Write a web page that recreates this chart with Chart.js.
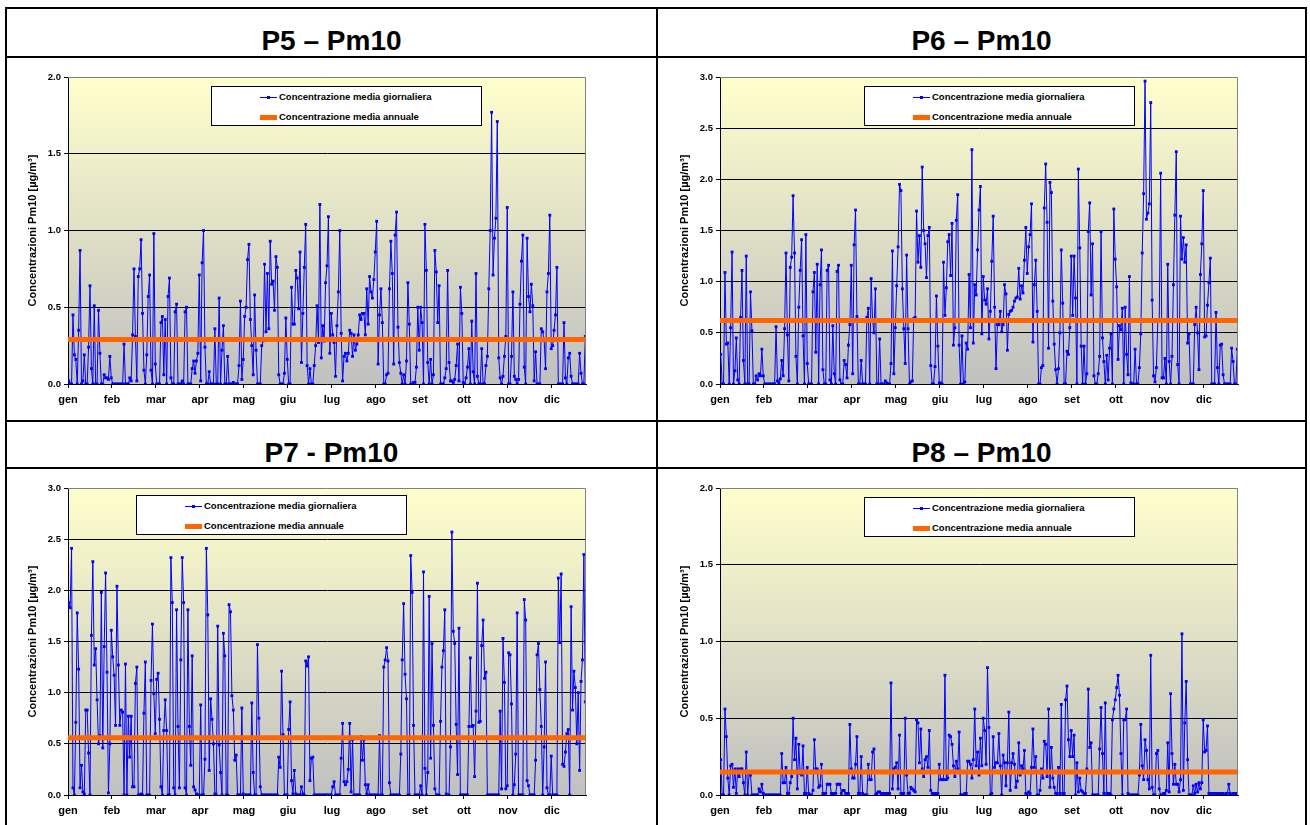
<!DOCTYPE html>
<html lang="it">
<head>
<meta charset="utf-8">
<title>Concentrazioni Pm10 – P5, P6, P7, P8</title>
<script src="https://cdn.jsdelivr.net/npm/chart.js@4.4.1/dist/chart.umd.min.js"></script>
<style>
  html, body { margin: 0; padding: 0; background: #fff; }
  #page { position: relative; width: 1310px; height: 825px; overflow: hidden; font-family: Arial, "Liberation Sans", sans-serif; color: #000; }
  .rule { position: absolute; background: #000; }
  .title { position: absolute; height: 32px; line-height: 32px; text-align: center; font-weight: bold; font-size: 28px; white-space: nowrap; }
  canvas { position: absolute; }
  .legend { position: absolute; width: 271px; height: 40px; background: #fff; border: 1px solid #000; box-sizing: border-box; font-weight: bold; font-size: 9.5px; }
  .legend .row { position: absolute; left: 48px; height: 12px; line-height: 12px; white-space: nowrap; }
  .swatch { display: inline-block; position: relative; width: 17px; height: 12px; margin-right: 2px; vertical-align: top; }
  .swatch.daily::before { content: ''; position: absolute; left: 0; right: 0; top: 6px; height: 1px; background: #0000ff; }
  .swatch.daily::after { content: ''; position: absolute; left: 7px; top: 5px; width: 3px; height: 3px; background: #0000ff; }
  .swatch.annual::before { content: ''; position: absolute; left: 0; right: 0; top: 4px; height: 5px; background: #ff6600; }
</style>
</head>
<body>
<div id="page">
  <div class="rule" style="left:5px;top:7px;width:1302px;height:2px"></div>
  <div class="rule" style="left:5px;top:56px;width:1302px;height:2px"></div>
  <div class="rule" style="left:5px;top:420px;width:1302px;height:2px"></div>
  <div class="rule" style="left:5px;top:467px;width:1302px;height:2px"></div>
  <div class="rule" style="left:5px;top:7px;width:2px;height:820px"></div>
  <div class="rule" style="left:656px;top:7px;width:2px;height:820px"></div>
  <div class="rule" style="left:1305px;top:7px;width:2px;height:820px"></div>

  <div class="title" style="left:7px;width:649px;top:25px">P5 – Pm10</div>
  <div class="title" style="left:658px;width:647px;top:25px">P6 – Pm10</div>
  <div class="title" style="left:7px;width:649px;top:437px">P7 - Pm10</div>
  <div class="title" style="left:658px;width:647px;top:437px">P8 – Pm10</div>

  <canvas id="c5"></canvas>
  <canvas id="c6"></canvas>
  <canvas id="c7"></canvas>
  <canvas id="c8"></canvas>
</div>

<script>
// --- DATA (daily values, index = day of year) ---
const monthLabels = ['gen', 'feb', 'mar', 'apr', 'mag', 'giu', 'lug', 'ago', 'set', 'ott', 'nov', 'dic'];
const monthTicks = [0, 31, 62, 93, 124, 155, 186, 217, 248, 279, 310, 341];

const p5Daily = [
  0.02,0,0,0.45,0.19,0.16,0,0.35,0.87,0,
  0.02,0.19,0,0,0.24,0.64,0.1,0,0.51,0,
  0,0.48,0.2,0,0,0.06,0.04,0.04,0.03,0.18,
  0.04,0,0,0,0,0,0,0,0,0.26,
  0,0,0,0.04,0.02,0.32,0.75,0.31,0.02,0.7,
  0.75,0.94,0.46,0.09,0,0.19,0.57,0.71,0.09,0,
  0.98,0.13,0,0,0,0.4,0.44,0.06,0.42,0,
  0.57,0.69,0.04,0,0,0.47,0.52,0,0,0,
  0.02,0,0.47,0.5,0,0,0,0.1,0.15,0.07,
  0.15,0.2,0.71,0.02,0.79,1.0,0.24,0,0,0.08,
  0,0,0,0.36,0,0,0.56,0,0.22,0.38,
  0,0,0.18,0,0,0,0.01,0,0,0,
  0.12,0.54,0.03,0.16,0.44,0.5,0.81,0.91,0.42,0.25,
  0.06,0.58,0.22,0,0,0,0.25,0.28,0.78,0.34,
  0.72,0.36,0.93,0.65,0.67,0.48,0.83,0.76,0.06,0,
  0,0,0.07,0.43,0.16,0,0,0.63,0.39,0.39,
  0.74,0.69,0.49,0.86,0.14,0.46,0.76,1.04,0.12,0,
  0.1,0,0,0.12,0.25,0.51,0.27,
  1.17,0.17,0.38,0.28,0.66,0.77,1.09,0.2,0.46,0.32,
  0.27,0.05,0.38,0.6,1.0,0.33,0.02,0.18,0.2,0.15,
  0.2,0.35,0.33,0.18,0.32,0.22,0.26,0.32,0.45,0.42,
  0.46,0.46,0.32,0.62,0.39,0.7,0.6,0.56,0.68,0.86,
  1.06,0.13,0.45,0.62,0.4,0,0,0.06,0.07,0.62,
  0.93,0.72,0.13,0.97,1.12,0.37,0.14,0.07,0,0.06,
  0,0.15,0.66,0.39,0,0,0.01,0.01,0.11,0.5,
  0.22,0.5,0.4,0,1.04,0.74,0.14,0,0.16,0,
  0.06,0.87,0.73,0.4,0.64,0,0,0,0.04,0.1,
  0.74,0.14,0.02,0.02,0.01,0.03,0.12,0.26,0.02,0.63,
  0.46,0.01,0,0.04,0.11,0.23,0,0.41,0.08,0,
  0.72,0.05,0,0,0.23,0,0,0.12,0.18,0.62,
  1.0,1.77,0.71,0.95,1.08,1.71,0.17,0.04,0,0.05,
  0.18,0.31,1.15,0,0,0.18,0.6,0.05,0.03,0,
  0.03,0.52,0.8,0.97,0.11,0,0.95,0.57,0.47,0.65,
  0.51,0.02,0.21,0,0,0,0.36,0.34,0.29,0.1,
  0.6,0.72,1.1,0.23,0.25,0.35,0.45,0.76,0,0,
  0,0,0.4,0.04,0,0.17,0.2,0.05,0,0,
  0,0,0,0.2,0.07,0,0,0.31
];

const p6Daily = [
  0.29,0,0,1.09,0.39,0.4,0,0.55,1.29,0,
  0.13,0.45,0.04,0,0.65,1.11,0.23,0,1.25,0,
  0,0.9,0.52,0,0,0.08,0.04,0.1,0.08,0.34,
  0.08,0,0,0,0,0,0,0,0,0.56,
  0.03,0.01,0.05,0.23,0.08,0.54,1.28,0.48,0.03,1.14,
  1.24,1.84,1.28,0.27,0,0.75,1.11,1.41,0.47,0,
  1.46,0.2,0,0,0,0.9,1.09,0.31,1.17,0,
  0.97,1.31,0.14,0,0,1.11,1.16,0.04,0,0.57,
  0.1,0,1.1,1.16,0.04,0,0,0.23,0.19,0.06,
  0.38,0.58,1.16,0.1,1.36,1.7,0.66,0,0,0.23,
  0,0,0,0.65,0.74,0,1.03,0.63,0.5,0.93,
  0,0,0.44,0,0,0,0.03,0.01,0,0,
  0.2,1.3,0.1,0.55,0.96,1.34,1.95,1.89,0.93,0.54,
  0.2,1.26,0.54,0,0.02,0.03,0.64,0.65,1.69,1.19,
  1.45,1.14,2.12,1.5,1.37,1.04,1.45,1.53,0.18,0,
  0,0.17,0.86,0.37,0.01,0.01,0,1.19,0.67,0.94,
  1.39,1.46,1.06,1.57,0.38,0.55,1.6,1.85,0.38,0,
  0.47,0,0.02,0.4,0.34,1.07,0.55,
  2.29,0.4,0.97,0.87,1.31,1.7,1.93,0.49,1.05,0.82,
  0.78,0.93,0.44,0.71,1.2,1.64,0.75,0.15,0.58,0.58,
  0.71,0.51,0.58,0.97,0.88,0.33,0.68,0.71,0.72,0.75,
  0.81,0.84,0.85,1.13,0.83,0.96,0.89,1.21,1.53,1.08,
  1.34,1.46,1.76,0.41,0.97,1.21,0.71,0,0,0.16,
  0.18,1.72,2.15,1.58,0.35,1.97,1.87,0.81,0.39,0.14,
  0,0.15,0.5,1.31,0.79,0,0,0.32,0.29,0.55,
  1.25,0.67,1.25,0.84,0,2.1,1.33,0.37,0,0.37,
  0,0.1,1.49,1.77,0.87,1.37,0.08,0,0,0.1,
  0.27,1.49,0.45,0.22,0,0.28,0.04,0.35,0.49,0,
  1.71,1.22,0.95,0.24,0.57,0.53,0.74,0,0.75,0.29,
  0.09,1.05,0.01,0,0,0.34,0,0,0.16,0.49,
  1.28,1.86,2.96,1.61,1.67,1.76,2.75,0.82,0.08,0.02,
  0.16,0.62,0.62,2.06,0.06,0.06,0.25,0,1.17,0.22,
  0,0.27,0.97,1.65,2.27,0.19,0,1.64,1.22,1.43,
  1.19,1.36,0.4,0.49,0,0,0,0.58,0.75,0.5,
  0.14,1.07,1.37,1.89,0.46,0.47,0.77,0.99,1.23,0,
  0,0,0.7,0.16,0,0.38,0.39,0.09,0,0,
  0,0,0,0.35,0.22,0,0,0.34
];

const p7Daily = [
  1.88,1.83,2.41,0.07,0,0.71,1.78,1.23,0.07,0.29,
  0.03,0.01,0.83,0.83,0.41,0,1.56,2.28,1.27,1.43,
  0.93,0.5,0.58,1.98,0.46,1.45,2.17,1.2,0.02,0.5,
  1.61,1.35,1.17,0.68,2.04,1.27,0.68,0.83,0.81,0,
  1.28,0,0.77,0.37,0.77,0.08,0.08,1.09,1.25,0,
  0,0.01,0,0.8,1.3,0,0,0,1.12,1.67,
  0.99,0.6,1.13,1.19,0.74,0.08,0,0.63,0.93,0.63,
  0,0,2.32,1.88,0.07,0,1.81,0.67,0.07,1.32,
  2.32,1.88,0.07,0,1.81,0.67,0.29,1.36,0.08,0.05,
  0.01,0,0,0.88,0,0,0.35,2.41,1.76,0.24,
  0.94,0.74,0.5,0.01,0,1.65,0.49,0.22,0,1.58,
  1.36,0,0,1.86,1.79,0.97,0.83,0.34,0.39,0,
  0,0,0.85,0.01,0,0,0,0,0,0.9,
  0.22,0,0,1.47,0.75,0.08,0,0,0,0,
  0,0,0,0,0,0,0,0,0.37,0.27,
  1.21,0.59,0,0,0,0.64,0.91,0.14,0.01,0.24,
  0.01,0,0,0,0.08,0.01,0,1.31,1.26,1.35,
  0.14,0.36,0.37,0,0,0,0,
  0,0,0,0,0,0,0,0,0,0.08,
  0.13,0,0,0,0,0.36,0.7,0.13,0.1,0.13,
  0.25,0.7,0.03,0.54,0,0,0,0,0,0.57,
  0.34,0.54,0.1,0.01,0.1,0,0,0,0,0,
  0,0,0.58,0,0,1.25,1.32,1.44,1.31,0.12,
  0,0,0,0,0,0,0,0.4,1.32,1.87,
  1.18,0.94,0,0,2.34,1.98,0.68,0,0,0,
  0,0.09,0,2.18,0.26,0,0.22,1.94,0.36,1.48,
  0.68,0.06,0,0,0,0.72,1.25,1.41,1.81,0.01,
  0,0,0.47,2.57,1.6,1.48,0.69,0.2,1.63,0,
  0,0,0,0,0,0.67,1.34,0.67,0.68,0.18,
  0.82,2.07,0.71,0.72,1.46,1.71,1.14,1.2,0,0,
  0,0,0,0,0,0,0,0.82,0.06,1.53,
  1.1,0.06,0.09,1.39,1.37,0.89,0,0.1,0.4,1.78,
  0,0,0,0,1.91,1.71,0.14,0.09,0,0,
  0,0,0.34,1.37,1.48,1.03,0.67,0,0.47,1.3,
  0.07,0,0,0.38,0,0,0,0,2.12,1.49,
  2.16,0.3,0.28,0.42,0.6,0.64,0,1.84,0.83,1.21,
  1.05,0.5,1.0,0.24,1.11,1.32,2.35,0.91
];

const p8Daily = [
  0.23,0,0,0.56,0.38,0.11,0,0.19,0.2,0.05,
  0.17,0.01,0.17,0.12,0.17,0.17,0.08,0,0.28,0,
  0.14,0.13,0,0,0,0,0,0.04,0.02,0.07,
  0.01,0,0,0,0,0,0,0,0,0,
  0,0,0,0.27,0.08,0.08,0.18,0.01,0.01,0.08,
  0.12,0.5,0.23,0.37,0.04,0.33,0.14,0.13,0.32,0.01,
  0.01,0.18,0.01,0,0,0.03,0.36,0.17,0.17,0.05,
  0.06,0.2,0.01,0.01,0.01,0.07,0.07,0.07,0.01,0.01,
  0.01,0.01,0.07,0.07,0.07,0.01,0.03,0.03,0.01,0.01,
  0.01,0.46,0.17,0.11,0.11,0.2,0.38,0.01,0.01,0.25,
  0.01,0,0,0,0.2,0.1,0.1,0.28,0.3,0,
  0.01,0.02,0.02,0.01,0.01,0.01,0.01,0.01,0.01,0.01,
  0.73,0.04,0.17,0.18,0.21,0.04,0.39,0.01,0.01,0.01,
  0.5,0.13,0.01,0.01,0.05,0.04,0.03,0.02,0.49,0.47,
  0.21,0.43,0.17,0.12,0.23,0.25,0.18,0.42,0.03,0.01,
  0.01,0.01,0.01,0.01,0.2,0.1,0.1,0.1,0.78,0.1,
  0.11,0.39,0.38,0.33,0.19,0.12,0.22,0.17,0.41,0,
  0,0,0.01,0.01,0.22,0.22,0.2,
  0.11,0.23,0.56,0.19,0.28,0.13,0.37,0.19,0.5,0.42,
  0.2,0.83,0.44,0,0.01,0.38,0.18,0.21,0.21,0.4,
  0.19,0,0.26,0.21,0.06,0.21,0.54,0.03,0.21,0.27,
  0.2,0.05,0.09,0.34,0.13,0.19,0.17,0.29,0.01,0.01,
  0.02,0.01,0.18,0.43,0.18,0.25,0,0,0.03,0.17,
  0.11,0.35,0.33,0.12,0.56,0.05,0.31,0.11,0.05,0.01,
  0.01,0.18,0.01,0.59,0.01,0.01,0.62,0.71,0.36,0.25,
  0.42,0.25,0.39,0,0.21,0.02,0.11,0.03,0.02,0.01,
  0.01,0.17,0.69,0.31,0.34,0,0,0,0,0,
  0.3,0.57,0.27,0.01,0.6,0.01,0.01,0.01,0,0.49,
  0.56,0.62,0.7,0.78,0.65,0.27,0,0.49,0.49,0.56,
  0.01,0,0,0,0,0,0,0,0.13,0.46,
  0.19,0.1,0.36,0.29,0.1,0.04,0.91,0.05,0,0,
  0.27,0.29,0.04,0,0,0.01,0.01,0.03,0.34,0.02,
  0.66,0.27,0.07,0.2,0.07,0.07,0.02,0.1,1.05,0.03,
  0.47,0.74,0.23,0,0,0,0.06,0.01,0.07,0.02,
  0.08,0.04,0.08,0.49,0.28,0.29,0.45,0.01,0.01,0.01,
  0.01,0.01,0.01,0.01,0.01,0.01,0.01,0.01,0,0.01,
  0.01,0.07,0.01,0,0.01,0.01,0.01,0.01
];

// annual means (orange line) and y-axis maxima
const annualMeans = { p5: 0.29, p6: 0.62, p7: 0.56, p8: 0.15 };
const yMaxima = { p5: 2.0, p6: 3.0, p7: 3.0, p8: 2.0 };

const dailyLabel = 'Concentrazione media giornaliera';
const annualLabel = 'Concentrazione media annuale';
const yTitle = 'Concentrazioni Pm10 [µg/m³]';

// --- LAYOUT (page pixels) ---
const panels = [
  { id: 'c5', values: p5Daily, mean: annualMeans.p5, yMax: yMaxima.p5,
    box: { x: 7, y: 58, w: 649, h: 362 }, plot: { x0: 68, y0: 77, x1: 586, y1: 384 }, titleX: 33, legend: { x: 211, y: 86 } },
  { id: 'c6', values: p6Daily, mean: annualMeans.p6, yMax: yMaxima.p6,
    box: { x: 658, y: 58, w: 647, h: 362 }, plot: { x0: 720, y0: 77, x1: 1238, y1: 384 }, titleX: 685, legend: { x: 864, y: 86 } },
  { id: 'c7', values: p7Daily, mean: annualMeans.p7, yMax: yMaxima.p7,
    box: { x: 7, y: 469, w: 649, h: 356 }, plot: { x0: 68, y0: 488, x1: 586, y1: 795 }, titleX: 33, legend: { x: 136, y: 495 } },
  { id: 'c8', values: p8Daily, mean: annualMeans.p8, yMax: yMaxima.p8,
    box: { x: 658, y: 469, w: 647, h: 356 }, plot: { x0: 720, y0: 488, x1: 1238, y1: 795 }, titleX: 685, legend: { x: 864, y: 497 } }
];

const FONT = 'Arial, "Liberation Sans", sans-serif';
Chart.defaults.font.family = FONT;
Chart.defaults.color = '#000';

// gradient plot background + grey top/right frame, like the spreadsheet original
const plotFrame = {
  id: 'plotFrame',
  beforeDraw(chart) {
    const { ctx, chartArea: a } = chart;
    const g = ctx.createLinearGradient(0, a.top, 0, a.bottom);
    g.addColorStop(0, '#ffffcc');
    g.addColorStop(1, '#c0c0c0');
    ctx.save();
    ctx.fillStyle = g;
    ctx.fillRect(a.left, a.top, a.right - a.left, a.bottom - a.top);
    ctx.restore();
  },
  afterDatasetsDraw(chart) {
    const { ctx, chartArea: a } = chart;
    ctx.save();
    ctx.strokeStyle = '#808080';
    ctx.lineWidth = 1;
    ctx.beginPath();
    ctx.moveTo(a.left, Math.round(a.top) + 0.5);
    ctx.lineTo(Math.round(a.right) - 0.5, Math.round(a.top) + 0.5);
    ctx.lineTo(Math.round(a.right) - 0.5, a.bottom);
    ctx.stroke();
    ctx.restore();
  }
};

function addLegend(pos) {
  const box = document.createElement('div');
  box.className = 'legend';
  box.style.left = pos.x + 'px';
  box.style.top = pos.y + 'px';
  box.innerHTML =
    '<div class="row" style="top:4px"><span class="swatch daily"></span>' + dailyLabel + '</div>' +
    '<div class="row" style="top:24px"><span class="swatch annual"></span>' + annualLabel + '</div>';
  document.getElementById('page').appendChild(box);
}

function makeChart(p) {
  const cv = document.getElementById(p.id);
  cv.width = p.box.w;
  cv.height = p.box.h;
  cv.style.left = p.box.x + 'px';
  cv.style.top = p.box.y + 'px';

  const yAxisW = p.plot.x0 - p.box.x;
  const xAxisH = p.box.y + p.box.h - p.plot.y1;
  const titleFont = { family: FONT, size: 11, weight: 'bold', lineHeight: 1.2 };

  new Chart(cv, {
    type: 'line',
    data: {
      datasets: [
        {
          label: annualLabel,
          data: [{ x: 0, y: p.mean }, { x: 365, y: p.mean }],
          borderColor: '#ff6600',
          borderWidth: 5,
          pointRadius: 0,
          order: 0
        },
        {
          label: dailyLabel,
          data: p.values.map((v, i) => ({ x: i + 0.5, y: v })),
          borderColor: '#0000ff',
          borderWidth: 1,
          pointRadius: 2,
          pointStyle: 'rect',
          pointBackgroundColor: '#0000ff',
          pointBorderWidth: 0,
          order: 1
        }
      ]
    },
    options: {
      responsive: false,
      animation: false,
      devicePixelRatio: 1,
      layout: { padding: { left: 0, top: p.plot.y0 - p.box.y, right: p.box.x + p.box.w - p.plot.x1, bottom: 0 } },
      plugins: { legend: { display: false }, tooltip: { enabled: false } },
      scales: {
        x: {
          type: 'linear',
          min: 0,
          max: 365,
          afterBuildTicks: (axis) => { axis.ticks = monthTicks.map((v) => ({ value: v })); },
          afterFit: (axis) => { axis.height = xAxisH; },
          ticks: {
            autoSkip: false,
            maxRotation: 0,
            padding: 5,
            font: { family: FONT, size: 11, weight: 'bold' },
            callback: (v, i) => monthLabels[i]
          },
          grid: { drawOnChartArea: false, tickLength: 4, tickColor: '#000' },
          border: { color: '#000' }
        },
        y: {
          min: 0,
          max: p.yMax,
          afterFit: (axis) => { axis.width = yAxisW; },
          ticks: {
            stepSize: 0.5,
            padding: 3,
            font: { family: FONT, size: 9.5, weight: 'bold' },
            callback: (v) => Number(v).toFixed(1)
          },
          grid: {
            color: (c) => (c.tick && c.tick.value > 0 && c.tick.value < p.yMax) ? '#000' : 'rgba(0,0,0,0)',
            tickColor: '#000',
            tickLength: 4
          },
          border: { color: '#000' },
          title: {
            display: true,
            text: yTitle,
            font: titleFont,
            padding: { top: p.titleX - p.box.x - 7, bottom: 0 }
          }
        }
      }
    },
    plugins: [plotFrame]
  });

  addLegend(p.legend);
}

panels.forEach(makeChart);
</script>
</body>
</html>
